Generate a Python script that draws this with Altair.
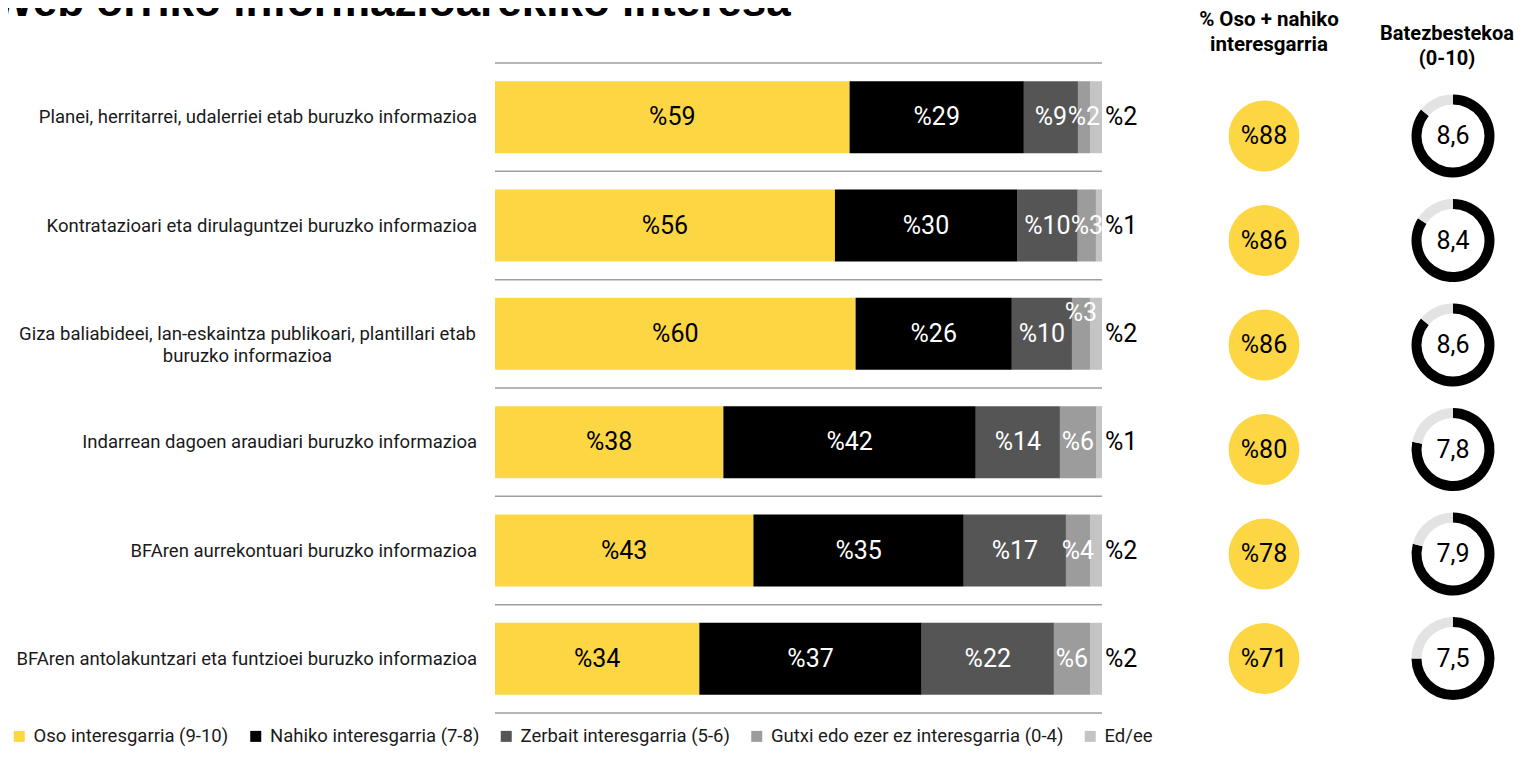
import math
import altair as alt
import pandas as pd

# ---------------- data ----------------
items = [
    "Planei, herritarrei, udalerriei etab buruzko informazioa",
    "Kontratazioari eta dirulaguntzei buruzko informazioa",
    "Giza baliabideei, lan-eskaintza publikoari, plantillari etab buruzko informazioa",
    "Indarrean dagoen araudiari buruzko informazioa",
    "BFAren aurrekontuari buruzko informazioa",
    "BFAren antolakuntzari eta funtzioei buruzko informazioa",
]
categories = [
    "Oso interesgarria (9-10)",
    "Nahiko interesgarria (7-8)",
    "Zerbait interesgarria (5-6)",
    "Gutxi edo ezer ez interesgarria (0-4)",
    "Ed/ee",
]
oso = [59, 56, 60, 38, 43, 34]
nahiko = [29, 30, 26, 42, 35, 37]
zerbait = [9, 10, 10, 14, 17, 22]
gutxi = [2, 3, 3, 6, 4, 6]
edee = [2, 1, 2, 1, 2, 2]
oso_nahiko = [88, 86, 86, 80, 78, 71]
batezbestekoa = [8.6, 8.4, 8.6, 7.8, 7.9, 7.5]

colors = ["#FDD644", "#000000", "#555555", "#9C9C9C", "#C4C4C4"]
YELLOW = "#FDD644"
RING_BG = "#E3E3E3"
FONT = "Roboto"

series = [oso, nahiko, zerbait, gutxi, edee]
bar_rows = []
for i, it in enumerate(items):
    for j, cat in enumerate(categories):
        bar_rows.append({"item": it, "row": i, "cat": cat, "order": j, "value": series[j][i]})
bar_df = pd.DataFrame(bar_rows)

side_df = pd.DataFrame({"item": items, "row": list(range(len(items))),
                        "pct": oso_nahiko, "mean": batezbestekoa})

ring_rows = []
for it, m in zip(items, batezbestekoa):
    ring_rows.append({"item": it, "start": 0.0, "end": m, "col": "#000000"})
    ring_rows.append({"item": it, "start": m, "end": 10.0, "col": RING_BG})
ring_df = pd.DataFrame(ring_rows)

# ---------------- bar panel ----------------
yscale_b = alt.Scale(type="band", paddingInner=0, paddingOuter=0)
yb = alt.Y("item:N", sort=items, scale=yscale_b, axis=None)
xscale = alt.Scale(domain=[0, 1], nice=False, zero=True)

bars = alt.Chart(bar_df).mark_bar(height=alt.RelativeBandSize(0.665)).encode(
    x=alt.X("value:Q", stack="normalize", scale=xscale, axis=None),
    y=yb,
    color=alt.Color(
        "cat:N",
        scale=alt.Scale(domain=categories, range=colors),
        legend=alt.Legend(
            title=None, orient="none", legendX=-485, legendY=664,
            direction="horizontal", symbolType="square", symbolSize=121,
            symbolStrokeWidth=0, labelFont=FONT, labelFontSize=18.5,
            labelColor="#1a1a1a", labelOffset=5, columnPadding=17.5, labelLimit=500,
        ),
    ),
    order=alt.Order("order:Q"),
)

sep_top = alt.Chart(side_df).mark_rule(color="#9E9E9E", strokeWidth=1.5).encode(
    y=alt.Y("item:N", sort=items, scale=yscale_b, axis=None, bandPosition=0)
)
sep_bottom = alt.Chart(side_df).transform_filter("datum.row == 5").mark_rule(
    color="#9E9E9E", strokeWidth=1.5
).encode(y=alt.Y("item:N", sort=items, scale=yscale_b, axis=None, bandPosition=1))

row_labels = alt.Chart(side_df).transform_filter("datum.row != 2").mark_text(
    font=FONT, fontSize=18.5, color="#1a1a1a", align="right"
).encode(y=yb, x=alt.value(-18), text="item:N")
long_label = alt.Chart(side_df).transform_filter("datum.row == 2").transform_calculate(
    disp="replace(datum.item, 'plantillari etab buruzko', 'plantillari etab|buruzko')"
).mark_text(
    font=FONT, fontSize=18.5, color="#1a1a1a", align="center", lineBreak="|", lineHeight=22
).encode(y=yb, x=alt.value(-247.5), text="disp:N")

lab_base = (
    alt.Chart(bar_df)
    .transform_joinaggregate(total="sum(value)", groupby=["item"])
    .transform_window(cum="sum(value)", groupby=["item"], sort=[alt.SortField("order")])
    .transform_calculate(
        mid="(datum.cum - datum.value / 2) / datum.total",
        end="datum.cum / datum.total",
        lbl="'%' + datum.value",
    )
)

inner = lab_base.transform_filter(
    "datum.order < 4 && !(datum.row == 2 && datum.order == 3)"
).mark_text(font=FONT, fontSize=25).encode(
    x=alt.X("mid:Q", scale=xscale, axis=None),
    y=yb,
    text="lbl:N",
    color=alt.condition("datum.order == 0", alt.value("black"), alt.value("white")),
)
raised = lab_base.transform_filter("datum.row == 2 && datum.order == 3").mark_text(
    font=FONT, fontSize=25, dy=-21, color="white"
).encode(x=alt.X("mid:Q", scale=xscale, axis=None), y=yb, text="lbl:N")
outer = lab_base.transform_filter("datum.order == 4").mark_text(
    font=FONT, fontSize=25, align="left", dx=3, color="black"
).encode(x=alt.X("end:Q", scale=xscale, axis=None), y=yb, text="lbl:N")

bar_panel = alt.layer(sep_top, sep_bottom, bars, inner, raised, outer, row_labels, long_label).properties(
    width=607, height=650,
    title=alt.Title(
        "Web orriko informazioarekiko interesa", anchor="start", frame="bounds",
        font="Liberation Sans", fontSize=44, fontWeight="bold", color="black",
        offset=37, dx=-24.5,
    ),
)

# ---------------- side panels ----------------
ys = alt.Y("item:N", sort=items,
           scale=alt.Scale(type="point", padding=0.61, align=0.573), axis=None)

circles = alt.Chart(side_df).mark_circle(size=5027, color=YELLOW, opacity=1).encode(y=ys)
circ_text = alt.Chart(side_df).transform_calculate(lbl="'%' + datum.pct").mark_text(
    font=FONT, fontSize=25, color="black"
).encode(y=ys, text="lbl:N")
circ_panel = alt.layer(circles, circ_text).properties(
    width=204, height=650,
    title=alt.Title(["% Oso + nahiko", "interesgarria"], anchor="middle", font=FONT,
                    fontSize=20.5, fontWeight="bold", color="black", lineHeight=25,
                    offset=8, dx=5),
)

rings = alt.Chart(ring_df).mark_arc(innerRadius=31.5, outerRadius=41.5).encode(
    y=ys,
    theta=alt.Theta("start:Q", stack=False,
                    scale=alt.Scale(domain=[0, 10], range=[0, 2 * math.pi])),
    theta2="end:Q",
    color=alt.Color("col:N", scale=None),
)
ring_text = alt.Chart(side_df).transform_calculate(
    lbl="replace(format(datum.mean, '.1f'), '.', ',')"
).mark_text(font=FONT, fontSize=25, color="black").encode(y=ys, text="lbl:N")
ring_panel = alt.layer(rings, ring_text).properties(
    width=54, height=650,
    title=alt.Title(["Batezbestekoa", "(0-10)"], anchor="middle", font=FONT,
                    fontSize=20, fontWeight="bold", color="black", lineHeight=25,
                    offset=-6, dx=-6),
)

chart = (
    alt.hconcat(bar_panel, circ_panel, ring_panel, spacing=60, bounds="flush")
    .properties(padding={"left": -17, "top": -27, "right": 0, "bottom": 2})
    .configure_view(strokeWidth=0)
)

chart.save("out.html", embed_options={"renderer": "svg", "actions": False})
